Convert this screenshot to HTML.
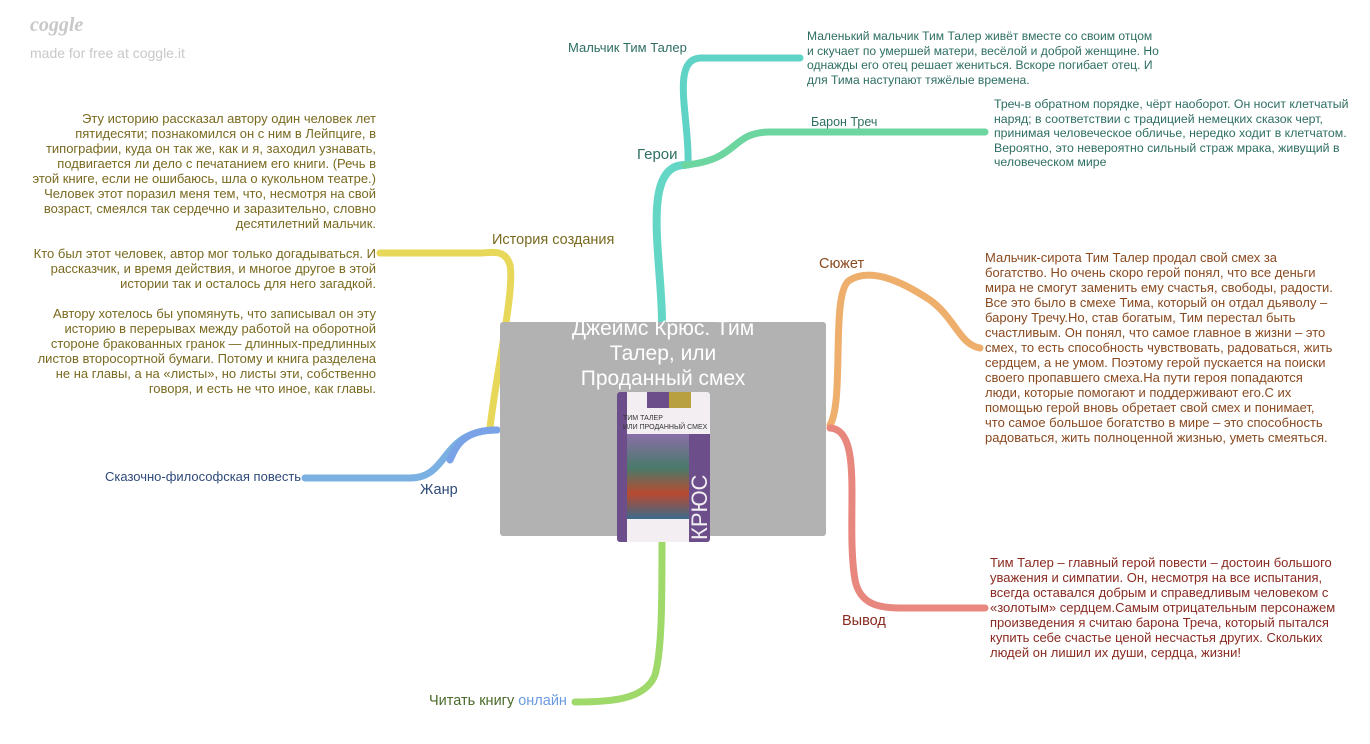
<!DOCTYPE html>
<html><head><meta charset="utf-8"><style>
body{margin:0;width:1370px;height:744px;background:#fff;position:relative;overflow:hidden;font-family:"Liberation Sans","DejaVu Sans",sans-serif}
.t{position:absolute;font-size:13px;line-height:15px}
.l{position:absolute;font-size:14.5px;white-space:nowrap}
</style></head><body>
<div style="position:absolute;left:30px;top:14px;font-family:'Liberation Serif',serif;font-style:italic;font-weight:bold;font-size:20px;color:#c8c8c8">coggle</div>
<div style="position:absolute;left:30px;top:45px;font-size:14px;color:#c8c8c8">made for free at coggle.it</div>

<svg width="1370" height="744" style="position:absolute;left:0;top:0">
<g fill="none" stroke-linecap="round">
<path d="M662 322 C662 260 640 165 685 165" stroke="#63d6c6" stroke-width="8"/>
<path d="M688 165 C690 120 670 60 700 58 L800 58" stroke="#5fd3c5" stroke-width="7"/>
<path d="M685 165 C740 160 730 132 770 132 L985 132" stroke="#6dd6a0" stroke-width="7"/>
<path d="M490 428 C495 380 515 290 510 265 C505 248 490 253 480 253 L380 253" stroke="#e8d85a" stroke-width="7"/>
<path d="M497 430 C440 430 450 478 410 478 L305 478" stroke="#7ab0e2" stroke-width="7"/>
<path d="M497 430 C460 430 455 450 450 460" stroke="#7aa2e6" stroke-width="7"/>
<path d="M830 425 C845 400 830 290 850 280 C870 268 900 280 930 300 C955 318 960 345 980 348" stroke="#eeae6c" stroke-width="7"/>
<path d="M830 428 C865 430 845 520 855 580 C860 605 880 608 900 608 L985 608" stroke="#e8877e" stroke-width="7"/>
<path d="M662 540 C662 600 662 650 655 675 C645 700 610 702 575 702" stroke="#9ed96a" stroke-width="7"/>
</g>
</svg>

<div style="position:absolute;left:500px;top:322px;width:326px;height:214px;background:#b2b2b2;border-radius:3px"></div>
<div style="position:absolute;left:553px;top:316px;width:220px;text-align:center;color:#fff;font-size:21px;line-height:25px">Джеймс Крюс. Тим Талер, или Проданный смех</div>
<div style="position:absolute;left:617px;top:392px;width:93px;height:150px;background:#f2eef2;border-radius:3px;overflow:hidden">
 <div style="position:absolute;left:0;top:0;width:10px;height:150px;background:#6c4e8a"></div>
 <div style="position:absolute;left:30px;top:0;width:22px;height:16px;background:#6c4e8a"></div>
 <div style="position:absolute;left:52px;top:0;width:22px;height:16px;background:#b8a040"></div>
 <div style="position:absolute;left:6px;top:22px;font-size:7px;color:#333;line-height:9px">ТИМ ТАЛЕР<br>ИЛИ ПРОДАННЫЙ СМЕХ</div>
 <div style="position:absolute;left:10px;top:42px;width:62px;height:85px;background:linear-gradient(#8a6ea8,#4a7a6a 40%,#b84a30 70%,#3a6a8a)"></div>
 <div style="position:absolute;left:72px;top:42px;width:21px;height:108px;background:#6c4e8a"></div>
 <div style="position:absolute;transform:rotate(-90deg);transform-origin:left top;color:#f2eef2;font-size:22px;top:148px;left:70px">КРЮС</div>
</div>

<div class="l" style="left:637px;top:146px;color:#2e6e62;font-size:15px">Герои</div>
<div class="l" style="left:568px;top:40px;color:#2e6e62;font-size:13px">Мальчик Тим Талер</div>
<div class="l" style="left:811px;top:115px;color:#2e6e62;font-size:12.5px">Барон Треч</div>
<div class="t" style="left:807px;top:29px;width:352px;font-size:12.1px;line-height:14.5px;color:#2e6e62">Маленький мальчик Тим Талер живёт вместе со своим отцом и скучает по умершей матери, весёлой и доброй женщине. Но однажды его отец решает жениться. Вскоре погибает отец. И для Тима наступают тяжёлые времена.</div>
<div class="t" style="left:994px;top:97px;width:355px;font-size:12.3px;line-height:14.5px;color:#2e6e62">Треч-в обратном порядке, чёрт наоборот. Он носит клетчатый наряд; в соответствии с традицией немецких сказок черт, принимая человеческое обличье, нередко ходит в клетчатом. Вероятно, это невероятно сильный страж мрака, живущий в человеческом мире</div>

<div class="l" style="left:492px;top:232px;color:#7a6a20">История создания</div>
<div class="t" style="left:28px;top:111px;width:348px;text-align:right;color:#7a6a20">Эту историю рассказал автору один человек лет пятидесяти; познакомился он с ним в Лейпциге, в типографии, куда он так же, как и я, заходил узнавать, подвигается ли дело с печатанием его книги. (Речь в этой книге, если не ошибаюсь, шла о кукольном театре.) Человек этот поразил меня тем, что, несмотря на свой возраст, смеялся так сердечно и заразительно, словно десятилетний мальчик.<br><br>Кто был этот человек, автор мог только догадываться. И рассказчик, и время действия, и многое другое в этой истории так и осталось для него загадкой.<br><br>Автору хотелось бы упомянуть, что записывал он эту историю в перерывах между работой на оборотной стороне бракованных гранок — длинных-предлинных листов второсортной бумаги. Потому и книга разделена не на главы, а на «листы», но листы эти, собственно говоря, и есть не что иное, как главы.</div>

<div class="l" style="left:420px;top:482px;color:#2e4a7a">Жанр</div>
<div class="l" style="left:105px;top:469px;color:#2e4a7a;font-size:13px">Сказочно-философская повесть</div>

<div class="l" style="left:819px;top:256px;color:#8a4a20">Сюжет</div>
<div class="t" style="left:985px;top:250px;width:352px;color:#8a4a20">Мальчик-сирота Тим Талер продал свой смех за богатство. Но очень скоро герой понял, что все деньги мира не смогут заменить ему счастья, свободы, радости. Все это было в смехе Тима, который он отдал дьяволу – барону Тречу.Но, став богатым, Тим перестал быть счастливым. Он понял, что самое главное в жизни – это смех, то есть способность чувствовать, радоваться, жить сердцем, а не умом. Поэтому герой пускается на поиски своего пропавшего смеха.На пути героя попадаются люди, которые помогают и поддерживают его.С их помощью герой вновь обретает свой смех и понимает, что самое большое богатство в мире – это способность радоваться, жить полноценной жизнью, уметь смеяться.</div>

<div class="l" style="left:842px;top:613px;color:#8a2a20">Вывод</div>
<div class="t" style="left:990px;top:555px;width:352px;color:#8a2a20">Тим Талер – главный герой повести – достоин большого уважения и симпатии. Он, несмотря на все испытания, всегда оставался добрым и справедливым человеком с «золотым» сердцем.Самым отрицательным персонажем произведения я считаю барона Треча, который пытался купить себе счастье ценой несчастья других. Скольких людей он лишил их души, сердца, жизни!</div>

<div class="l" style="left:429px;top:693px;color:#4a6a2a">Читать книгу <span style="color:#6a9ae0">онлайн</span></div>
</body></html>
